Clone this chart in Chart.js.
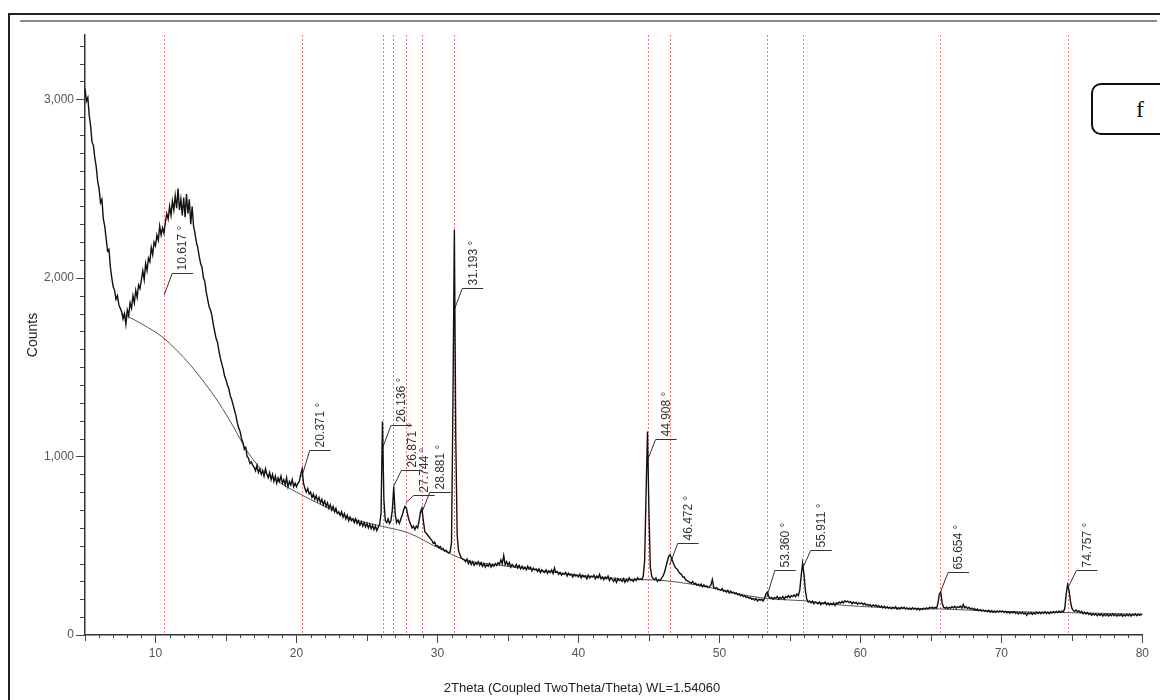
<!DOCTYPE html>
<html>
<head>
<meta charset="utf-8">
<script src="https://cdn.jsdelivr.net/npm/chart.js@4.4.1/dist/chart.umd.min.js"></script>
<style>
  body { margin: 0; background: #fff; overflow: hidden; }
  #wrap { position: relative; width: 1160px; height: 700px; }
  #frame { position: absolute; left: 8px; top: 13px; width: 1200px; height: 800px; border: 2px solid #222; }
  #rule { position: absolute; left: 20px; top: 20px; width: 1137px; height: 2px; background: #8a8a8a; }
  #tag {
    position: absolute; left: 1091px; top: 83px; width: 94px; height: 48px;
    border: 2px solid #111; border-radius: 10px; background: #fff;
    font-family: "Liberation Serif", "DejaVu Serif", serif; font-size: 24px;
    line-height: 48px; text-align: center; color: #111;
  }
  canvas { position: absolute; left: 0; top: 0; }
</style>
</head>
<body>
<div id="wrap">
  <canvas id="xrdChart" width="1160" height="700"></canvas>
  <div id="frame"></div>
  <div id="rule"></div>
  <div id="tag">f</div>
</div>
<script>
// scan: 5 -> 80 deg 2theta, step 0.1
const scanStart = 5;
const scanStep = 0.1;
const counts = [
  3060, 2990, 3010, 2910, 2850, 2760, 2740, 2670, 2620, 2540, // 5
  2500, 2420, 2440, 2330, 2290, 2220, 2150, 2160, 2060, 2000, // 6
  1950, 1930, 1880, 1900, 1850, 1830, 1810, 1770, 1800, 1740, // 7
  1820, 1790, 1860, 1830, 1900, 1860, 1930, 1890, 1960, 1940, // 8
  1990, 2040, 1990, 2080, 2040, 2110, 2090, 2170, 2130, 2200, // 9
  2180, 2240, 2210, 2290, 2240, 2280, 2250, 2310, 2360, 2330, // 10
  2400, 2350, 2430, 2380, 2460, 2390, 2500, 2380, 2440, 2350, // 11
  2450, 2340, 2470, 2360, 2440, 2300, 2400, 2290, 2250, 2200, // 12
  2170, 2120, 2080, 2060, 2000, 1980, 1920, 1880, 1840, 1820, // 13
  1790, 1740, 1700, 1660, 1640, 1590, 1550, 1520, 1490, 1450, // 14
  1430, 1400, 1380, 1340, 1320, 1290, 1260, 1230, 1190, 1160, // 15
  1140, 1100, 1080, 1040, 1050, 1000, 990, 960, 970, 950,     // 16
  940, 920, 950, 910, 930, 900, 920, 890, 930, 900,           // 17
  880, 910, 870, 900, 860, 890, 850, 880, 860, 890,           // 18
  850, 870, 840, 880, 830, 860, 840, 870, 830, 850,           // 19
  830, 850, 860, 900, 930, 850, 820, 800, 820, 790,           // 20
  800, 770, 790, 760, 780, 750, 770, 740, 760, 730,           // 21
  750, 720, 740, 710, 730, 700, 720, 690, 710, 680,           // 22
  690, 670, 690, 660, 680, 650, 670, 640, 660, 640,           // 23
  650, 630, 650, 625, 640, 615, 635, 610, 630, 605,           // 24
  625, 600, 620, 595, 615, 590, 610, 585, 605, 620,           // 25
  680, 1195, 760, 640, 630, 650, 625, 640, 700, 830,          // 26
  680, 630, 645, 625, 650, 670, 700, 720, 710, 670,           // 27
  640, 620, 600, 610, 590, 610, 600, 640, 690, 710,           // 28
  640, 580, 570, 560, 550, 540, 530, 515, 520, 500,           // 29
  500, 490, 495, 480, 485, 470, 475, 465, 460, 465,           // 30
  520, 1300, 2270, 1100, 560, 470, 450, 430, 425, 420,        // 31
  410, 425, 400, 415, 395, 410, 390, 405, 395, 410,           // 32
  390, 405, 385, 400, 380, 395, 385, 400, 380, 395,           // 33
  385, 400, 390, 405, 395, 420, 400, 445, 395, 410,           // 34
  390, 405, 380, 395, 385, 380, 395, 375, 390, 370,           // 35
  385, 370, 380, 365, 385, 370, 380, 360, 375, 365,           // 36
  370, 355, 370, 350, 365, 355, 350, 365, 345, 360,           // 37
  350, 365, 345, 375, 350, 355, 340, 350, 335, 345,           // 38
  340, 350, 330, 345, 335, 340, 325, 340, 330, 335,           // 39
  325, 340, 320, 335, 325, 330, 315, 335, 320, 330,           // 40
  325, 335, 315, 330, 320, 340, 315, 325, 310, 325,           // 41
  315, 330, 305, 320, 310, 300, 315, 295, 315, 305,           // 42
  310, 300, 315, 295, 310, 300, 320, 305, 310, 300,           // 43
  315, 305, 320, 310, 315, 310, 330, 420, 800, 1140,          // 44
  700, 380, 330, 315, 310, 320, 300, 310, 305, 320,           // 45
  330, 350, 380, 410, 440, 450, 430, 410, 390, 375,           // 46
  370, 355, 345, 340, 325, 325, 310, 305, 300, 295,           // 47
  290, 300, 285, 290, 280, 285, 275, 285, 270, 280,           // 48
  270, 275, 265, 270, 280, 310, 265, 260, 265, 255,           // 49
  255, 250, 260, 245, 250, 240, 250, 235, 245, 235,           // 50
  240, 230, 235, 225, 230, 220, 225, 215, 220, 210,           // 51
  215, 205, 210, 200, 205, 195, 205, 190, 200, 195,           // 52
  200, 190, 205, 230, 240, 215, 205, 210, 200, 210,           // 53
  205, 215, 200, 210, 205, 215, 200, 215, 210, 220,           // 54
  210, 220, 215, 225, 215, 230, 220, 250, 330, 400,           // 55
  340, 250, 200, 185, 190, 180, 190, 175, 185, 180,           // 56
  175, 185, 170, 180, 175, 185, 170, 180, 168, 178,           // 57
  170, 180, 165, 180, 175, 185, 178, 188, 180, 192,           // 58
  185, 190, 182, 188, 175, 185, 178, 182, 172, 180,           // 59
  175, 180, 170, 178, 168, 172, 165, 170, 160, 168,           // 60
  162, 168, 158, 165, 155, 162, 152, 160, 150, 158,           // 61
  150, 156, 146, 155, 148, 158, 145, 152, 146, 155,           // 62
  148, 155, 145, 152, 144, 150, 143, 152, 145, 150,           // 63
  142, 150, 140, 148, 142, 150, 144, 152, 146, 155,           // 64
  150, 156, 148, 155, 150, 175, 230, 240, 180, 155,           // 65
  150, 156, 148, 155, 150, 158, 152, 160, 150, 158,           // 66
  155, 162, 150, 170, 152, 158, 148, 155, 145, 150,           // 67
  142, 148, 138, 145, 136, 142, 134, 140, 132, 138,           // 68
  130, 138, 128, 135, 127, 133, 126, 134, 128, 135,           // 69
  128, 135, 126, 132, 124, 130, 122, 130, 124, 131,           // 70
  122, 128, 118, 126, 120, 127, 118, 125, 110, 124,           // 71
  118, 126, 116, 125, 118, 128, 120, 127, 119, 128,           // 72
  122, 130, 121, 128, 120, 130, 123, 131, 124, 132,           // 73
  126, 133, 127, 134, 130, 150, 230, 280, 250, 190,           // 74
  150, 138, 132, 140, 130, 136, 125, 132, 120, 128,           // 75
  118, 126, 115, 122, 110, 120, 112, 118, 108, 117,           // 76
  110, 118, 106, 116, 108, 117, 106, 115, 108, 118,           // 77
  108, 116, 106, 115, 108, 117, 105, 114, 107, 116,           // 78
  108, 117, 106, 115, 110, 118, 108, 116, 110, 117,           // 79
  112                                                         // 80
];

// fitted background
const bgAngles = [7.6, 8.5, 9.5, 10.5, 11.5, 12.5, 13.5, 14.5, 15.5, 16.5, 17.5, 18.5, 20, 22, 24, 26, 28, 30, 32, 34, 37, 40, 43, 46, 48, 50, 52, 54, 56, 58, 60, 63, 66, 70, 75, 80];
const bgCounts = [1800, 1765, 1720, 1668, 1595, 1510, 1410, 1300, 1170, 1030, 930, 870, 800, 720, 650, 610, 570, 490, 420, 395, 365, 335, 315, 305, 285, 255, 220, 200, 192, 172, 160, 150, 145, 132, 125, 116];

// peak markers: position, leader foot and leader top (counts)
const peakAngles = [10.617, 20.371, 26.136, 26.871, 27.744, 28.881, 31.193, 44.908, 46.472, 53.360, 55.911, 65.654, 74.757];
const leaderFoot = [1905, 885, 1053, 829, 739, 683, 1821, 980, 392, 213, 375, 235, 269];
const leaderTop  = [2028, 1036, 1176, 924, 784, 801, 1944, 1098, 515, 364, 476, 353, 364];

const xTicks = [10, 20, 30, 40, 50, 60, 70, 80];
const yTicks = [0, 1000, 2000, 3000];

const scanData = counts.map((c, i) => ({ x: +(scanStart + i * scanStep).toFixed(1), y: c }));
const bgData = bgAngles.map((a, i) => ({ x: a, y: bgCounts[i] }));

const peakPlugin = {
    id: 'peaks',
    beforeDatasetsDraw(chart) {
        const { ctx, chartArea, scales: { x, y } } = chart;
        ctx.save();
        // reference lines
        ctx.strokeStyle = 'rgba(240, 70, 70, 0.75)';
        ctx.lineWidth = 1;
        ctx.setLineDash([2, 2]);
        peakAngles.forEach(a => {
            const px = Math.round(x.getPixelForValue(a)) + 0.5;
            ctx.beginPath();
            ctx.moveTo(px, chartArea.top);
            ctx.lineTo(px, chartArea.bottom);
            ctx.stroke();
        });
        ctx.setLineDash([]);

        // leaders + labels
        ctx.strokeStyle = '#333';
        ctx.fillStyle = '#333';
        ctx.lineWidth = 1;
        ctx.font = '12px "Liberation Sans", Arial, sans-serif';
        ctx.textAlign = 'left';
        ctx.textBaseline = 'middle';
        peakAngles.forEach((a, i) => {
            const px = x.getPixelForValue(a);
            const yFoot = y.getPixelForValue(leaderFoot[i]);
            const yTop = Math.round(y.getPixelForValue(leaderTop[i])) + 0.5;
            ctx.beginPath();
            ctx.moveTo(px, yFoot);
            ctx.lineTo(px + 8, yTop);
            ctx.lineTo(px + 29, yTop);
            ctx.stroke();
            ctx.save();
            ctx.translate(px + 19, yTop - 3);
            ctx.rotate(-Math.PI / 2);
            ctx.fillText(a.toFixed(3) + ' °', 0, 0);
            ctx.restore();
        });
        ctx.restore();
    },
    afterDraw(chart) {
        const { ctx, chartArea, scales: { x, y } } = chart;
        ctx.save();
        ctx.strokeStyle = '#444';
        ctx.lineWidth = 1;
        // x ticks every degree
        for (let v = 5; v <= 80; v++) {
            const px = Math.round(x.getPixelForValue(v)) + 0.5;
            const len = v % 10 === 0 ? 8 : (v % 5 === 0 ? 6 : 3);
            ctx.beginPath();
            ctx.moveTo(px, chartArea.bottom);
            ctx.lineTo(px, chartArea.bottom + len);
            ctx.stroke();
        }
        // y ticks every 100 counts
        for (let v = 0; v <= 3300; v += 100) {
            const py = Math.round(y.getPixelForValue(v)) + 0.5;
            const len = v % 1000 === 0 ? 9 : 5;
            ctx.beginPath();
            ctx.moveTo(chartArea.left, py);
            ctx.lineTo(chartArea.left - len, py);
            ctx.stroke();
        }
        // x axis title
        ctx.fillStyle = '#222';
        ctx.font = '13px "Liberation Sans", Arial, sans-serif';
        ctx.textAlign = 'center';
        ctx.textBaseline = 'middle';
        ctx.fillText('2Theta (Coupled TwoTheta/Theta) WL=1.54060', 582, 688);
        ctx.restore();
    }
};

const ctx = document.getElementById('xrdChart').getContext('2d');
const xrdChart = new Chart(ctx, {
    type: 'line',
    data: {
        datasets: [{
            label: 'scan',
            data: scanData,
            borderColor: '#111',
            borderWidth: 1.4,
            pointRadius: 0,
            tension: 0,
            fill: false
        }, {
            label: 'background',
            data: bgData,
            borderColor: '#555',
            borderWidth: 1,
            pointRadius: 0,
            cubicInterpolationMode: 'monotone',
            fill: false
        }]
    },
    options: {
        responsive: false,
        animation: false,
        devicePixelRatio: 1,
        parsing: false,
        layout: { padding: { left: 0, top: 35, right: 7, bottom: 0 } },
        plugins: {
            legend: { display: false },
            tooltip: { enabled: false }
        },
        scales: {
            x: {
                type: 'linear',
                min: 5,
                max: 80,
                afterFit: (scale) => { scale.height = 65; },
                afterBuildTicks: (scale) => { scale.ticks = xTicks.map(v => ({ value: v })); },
                grid: { drawOnChartArea: false, drawTicks: false },
                border: { display: true, color: '#333', width: 1.5 },
                ticks: {
                    padding: 11,
                    maxRotation: 0,
                    autoSkip: false,
                    color: '#555',
                    font: { family: '"Liberation Sans", Arial, sans-serif', size: 12 }
                }
            },
            y: {
                type: 'linear',
                min: 0,
                max: 3360,
                afterFit: (scale) => { scale.width = 85; },
                afterBuildTicks: (scale) => { scale.ticks = yTicks.map(v => ({ value: v })); },
                grid: { drawOnChartArea: false, drawTicks: false },
                border: { display: true, color: '#333', width: 1.5 },
                ticks: {
                    padding: 11,
                    color: '#555',
                    font: { family: '"Liberation Sans", Arial, sans-serif', size: 12 },
                    callback: (v) => v.toLocaleString('en-US')
                },
                title: {
                    display: true,
                    text: 'Counts',
                    color: '#222',
                    padding: 25,
                    font: { family: '"Liberation Sans", Arial, sans-serif', size: 14 }
                }
            }
        }
    },
    plugins: [peakPlugin]
});
</script>
</body>
</html>
